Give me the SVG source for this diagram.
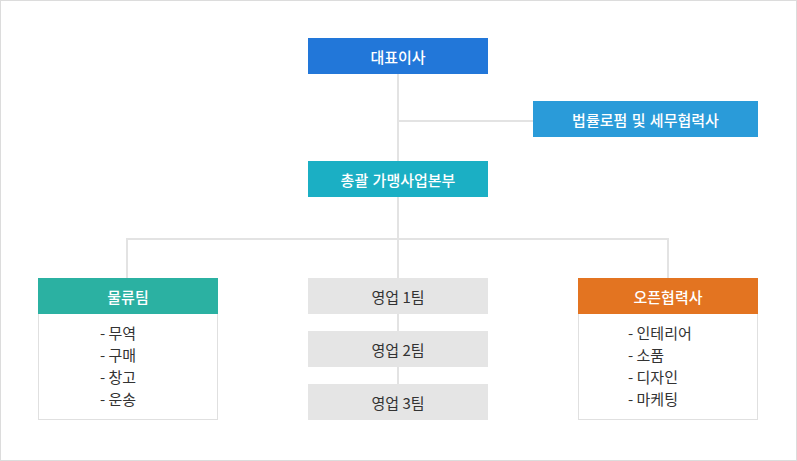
<svg xmlns="http://www.w3.org/2000/svg" width="797" height="461" viewBox="0 0 797 461">
<style>
text{font-family:"Noto Sans CJK KR","Noto Sans",sans-serif;}
.h{fill:#fff;font-size:15px;font-weight:500;text-anchor:middle;dominant-baseline:central;word-spacing:1px;}
.g{fill:#333;font-size:15px;text-anchor:middle;dominant-baseline:central;}
.l{fill:#333;font-size:15px;dominant-baseline:central;}
.ln{stroke:#e3e3e3;stroke-width:2;fill:none;}
.body{fill:#fff;stroke:#e0e0e0;stroke-width:1;}
</style>
<rect x="0.5" y="0.5" width="796" height="460" fill="#fff" stroke="#dcdcdc"/>
<g id="connectors">
<path class="ln" d="M398 74V278M398 121H533M127 279V239H668V278"/>
<path class="ln" d="M398 314V331M398 367V384"/>
</g>
<g id="ceo"><rect x="308" y="38" width="180" height="36" fill="#2277d9"/><text class="h" x="398" y="56">대표이사</text></g>
<g id="legal"><rect x="533" y="101" width="225" height="36" fill="#2a9bd9"/><text class="h" x="645.5" y="119">법률로펌 및 세무협력사</text></g>
<g id="hq"><rect x="308" y="161" width="180" height="36" fill="#1bafc4"/><text class="h" x="398" y="179">총괄 가맹사업본부</text></g>
<g id="logistics"><rect class="body" x="38.5" y="313.5" width="179" height="106"/><rect x="38" y="278" width="180" height="36" fill="#2bb1a2"/><text class="h" x="128" y="296">물류팀</text>
<text class="l" x="100" y="332">- 무역</text><text class="l" x="100" y="354">- 구매</text><text class="l" x="100" y="376">- 창고</text><text class="l" x="100" y="398">- 운송</text></g>
<g id="sales1"><rect x="308" y="278" width="180" height="36" fill="#e5e5e5"/><text class="g" x="398" y="296">영업 1팀</text></g>
<g id="sales2"><rect x="308" y="331" width="180" height="36" fill="#e5e5e5"/><text class="g" x="398" y="349">영업 2팀</text></g>
<g id="sales3"><rect x="308" y="384" width="180" height="36" fill="#e5e5e5"/><text class="g" x="398" y="402">영업 3팀</text></g>
<g id="partners"><rect class="body" x="578.5" y="313.5" width="179" height="106"/><rect x="578" y="278" width="180" height="36" fill="#e37421"/><text class="h" x="668" y="296">오픈협력사</text>
<text class="l" x="628" y="332">- 인테리어</text><text class="l" x="628" y="354">- 소품</text><text class="l" x="628" y="376">- 디자인</text><text class="l" x="628" y="398">- 마케팅</text></g>
</svg>
